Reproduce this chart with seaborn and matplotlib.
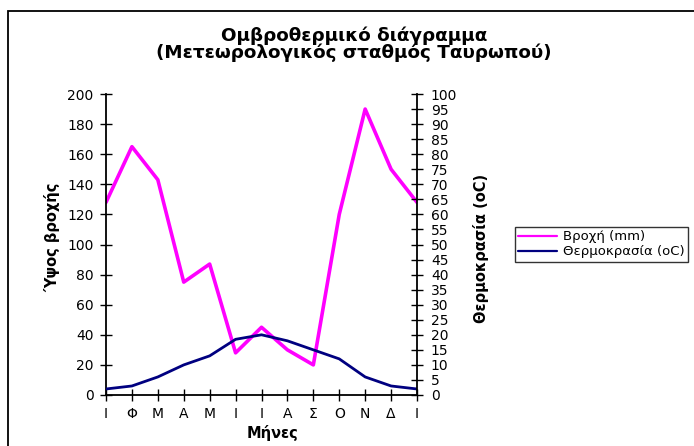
import matplotlib
matplotlib.use("Agg")
import matplotlib.pyplot as plt
import seaborn as sns
import pandas as pd
from matplotlib.patches import Rectangle

# Monthly data (January .. December, then January again to close the cycle)
months = ["Ι", "Φ", "Μ", "Α", "Μ", "Ι", "Ι", "Α", "Σ", "Ο", "Ν", "Δ", "Ι"]
rain_mm = [128, 165, 143, 75, 87, 28, 45, 30, 20, 120, 190, 150, 128]
temp_c = [2, 3, 6, 10, 13, 18.5, 20, 18, 15, 12, 6, 3, 2]

rain_color = "#FF00FF"
temp_color = "#000080"

sns.set_theme(style="white")
plt.rcParams["font.family"] = ["DejaVu Sans"]
plt.rcParams["text.color"] = "black"
plt.rcParams["axes.labelcolor"] = "black"

W, H = 694, 446
fig = plt.figure(figsize=(W / 100, H / 100), dpi=100)

# Plot area in pixel coordinates
left, right, top, bottom = 106, 417, 94, 395
ax = fig.add_axes([left / W, 1 - bottom / H, (right - left) / W, (bottom - top) / H])
ax2 = ax.twinx()

df = pd.DataFrame({"pos": range(len(months)), "rain": rain_mm, "temp": temp_c})

sns.lineplot(data=df, x="pos", y="rain", ax=ax, color=rain_color, lw=2.6,
             label="Βροχή (mm)", legend=False)
sns.lineplot(data=df, x="pos", y="temp", ax=ax2, color=temp_color, lw=2.0,
             label="Θερμοκρασία (oC)", legend=False)

ax.set_xlim(0, len(months) - 1)
ax.set_ylim(0, 200)
ax2.set_ylim(0, 100)
ax.set_yticks(range(0, 201, 20))
ax2.set_yticks(range(0, 101, 5))
ax.set_xticks(range(len(months)))
ax.set_xticklabels(months)

for a in (ax, ax2):
    for s in a.spines.values():
        s.set_visible(False)
    a.grid(False)
    a.set_facecolor("none")

# Only the left, right and bottom axis lines are drawn
ax.spines["left"].set_visible(True)
ax.spines["bottom"].set_visible(True)
ax2.spines["right"].set_visible(True)
for s in (ax.spines["left"], ax.spines["bottom"], ax2.spines["right"]):
    s.set_color("black")
    s.set_linewidth(1.3)

tick_kw = dict(direction="inout", length=8, width=1.0, colors="black",
               labelsize=10, labelcolor="black")
ax.tick_params(axis="y", left=True, pad=5, **tick_kw)
ax.tick_params(axis="x", bottom=True, pad=5, **tick_kw)
ax2.tick_params(axis="y", right=True, pad=6, **tick_kw)
ax.set_xlabel("")
ax.set_ylabel("")
ax2.set_ylabel("")

label_font = ["DejaVu Sans Condensed", "DejaVu Sans"]
fig.text(52 / W, 1 - 237 / H, "Ύψος βροχής", rotation=90, ha="center", va="center",
         fontsize=10.5, fontweight="bold", family=label_font, color="black")
fig.text(481 / W, 1 - 248 / H, "Θερμοκρασία (oC)", rotation=90, ha="center", va="center",
         fontsize=10.5, fontweight="bold", family=label_font, color="black")
fig.text(272 / W, 1 - 433 / H, "Μήνες", ha="center", va="center",
         fontsize=10.5, fontweight="bold", color="black")

fig.text(354 / W, 1 - 41 / H, "Ομβροθερμικό διάγραμμα", ha="center", va="baseline",
         fontsize=13.2, fontweight="bold", color="black")
fig.text(354 / W, 1 - 58 / H, "(Μετεωρολογικός σταθμός Ταυρωπού)", ha="center",
         va="baseline", fontsize=13.2, fontweight="bold", color="black")

# Outer chart border (runs off the right and bottom edges)
fig.patches.append(Rectangle((8 / W, -0.2), 1.2, 1 - 11 / H + 0.2,
                             transform=fig.transFigure, fill=False,
                             edgecolor="black", linewidth=1.3))

handles = ax.get_lines()[:1] + ax2.get_lines()[:1]
leg = fig.legend(handles, ["Βροχή (mm)", "Θερμοκρασία (oC)"],
                 loc="upper left", bbox_to_anchor=(515 / W, 1 - 227 / H),
                 fontsize=9.5, frameon=True, fancybox=False, borderpad=0.25,
                 handlelength=2.9, handletextpad=0.5, labelspacing=0.15,
                 borderaxespad=0, labelcolor="black")
leg.get_frame().set_edgecolor("black")
leg.get_frame().set_linewidth(1.0)
for line in leg.get_lines():
    line.set_linewidth(1.6)

fig.savefig("out.png", dpi=100, facecolor="white")
